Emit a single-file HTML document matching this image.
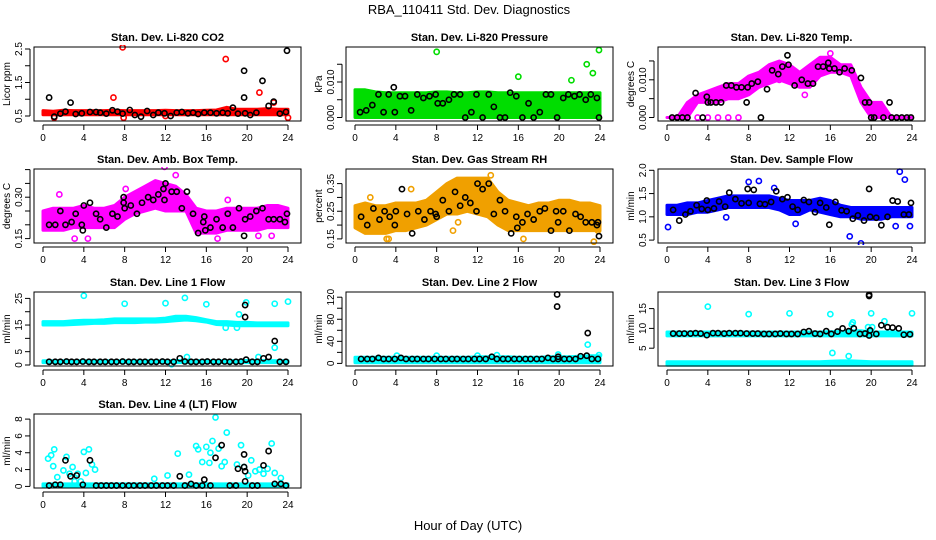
<!DOCTYPE html>
<html><head><meta charset="utf-8">
<style>
html,body{margin:0;padding:0;background:#fff;}
svg{display:block;font-family:"Liberation Sans",sans-serif;}
</style></head>
<body>
<svg id="chart" width="936" height="540" viewBox="0 0 936 540" xmlns="http://www.w3.org/2000/svg">
<rect width="936" height="540" fill="#fff"/>
<text x="469" y="14" text-anchor="middle" font-size="13">RBA_110411  Std. Dev. Diagnostics</text>
<text x="468" y="530" text-anchor="middle" font-size="13">Hour of Day (UTC)</text>
</svg>
<script>
// ---- shared data ----
const hours = [0,1,2,3,4,5,6,7,8,9,10,11,12,13,14,15,16,17,18,19,20,21,22,23,24];
const xTicks = [0,4,8,12,16,20,24];
const baseX = [0.6,1.2,1.7,2.3,2.8,3.3,3.9,4.5,5.0,5.6,6.1,6.7,7.2,7.8,8.4,8.9,9.5,10.0,10.6,11.1,11.7,12.2,12.8,13.4,13.9,14.5,15.0,15.6,16.1,16.7,17.2,17.8,18.3,18.9,19.4,19.9,20.5,21.0,21.6,22.1,22.7,23.2,23.8];

// CO2
const co2Lo = [0.54,0.54,0.54,0.54,0.54,0.54,0.54,0.54,0.54,0.54,0.54,0.54,0.54,0.54,0.54,0.54,0.54,0.54,0.54,0.54,0.54,0.54,0.54,0.54,0.54];
const co2Hi = [0.66,0.64,0.67,0.66,0.66,0.66,0.66,0.67,0.66,0.66,0.66,0.66,0.67,0.66,0.66,0.66,0.67,0.68,0.76,0.7,0.7,0.7,0.72,0.7,0.7];
const co2Cx = [7.8,17.9,6.9,21.2,22.6,7.9,1.1,24,12,18.6];
const co2Cy = [2.55,2.2,1.05,1.2,0.9,0.45,0.45,0.45,0.5,0.6];
const co2Kx = [0.6,1.1,1.7,2.2,2.7,3.2,3.8,4.6,5.2,5.6,6.2,6.8,7.3,7.8,8.5,9.0,9.6,10.2,10.8,11.3,11.9,12.5,13.1,13.6,14.2,14.7,15.2,15.8,16.4,17.0,17.6,18.1,18.6,19.1,19.7,19.7,19.8,20.3,20.9,21.5,22.1,22.6,23.2,23.8,23.9];
const co2Ky = [1.05,0.48,0.57,0.63,0.9,0.56,0.58,0.62,0.62,0.6,0.57,0.67,0.63,0.57,0.68,0.53,0.48,0.65,0.53,0.6,0.58,0.5,0.6,0.62,0.58,0.6,0.56,0.6,0.6,0.58,0.6,0.58,0.75,0.57,1.85,1.05,0.58,0.53,0.6,1.55,0.8,0.93,0.57,0.62,2.45];

// Pressure
const prLo = [0,0,0,0,0,0,0,0,0,0,0,0,0,0,0,0,0,0,0,0,0,0,0,0,0];
const prHi = [0.0078,0.0078,0.0072,0.007,0.007,0.007,0.007,0.007,0.0072,0.0072,0.007,0.007,0.0072,0.0072,0.007,0.007,0.007,0.007,0.007,0.007,0.007,0.007,0.007,0.007,0.007];
const prCx = [8,16,21.2,22.7,23.3,23.9];
const prCy = [0.0185,0.0115,0.0105,0.015,0.0125,0.019];
const prKx = [0.5,1.1,1.7,2.3,2.8,3.3,3.8,3.9,4.4,4.9,5.5,6.1,6.7,7.3,7.9,8.1,8.6,9.2,9.7,10.3,10.8,11.4,11.9,12.5,13.1,13.6,14.2,14.7,15.2,15.8,16.4,17.0,17.5,18.1,18.7,19.2,19.8,20.4,20.9,21.5,22.0,22.6,23.1,23.7,23.9];
const prKy = [0.0015,0.002,0.0035,0.0065,0.0015,0.0065,0.0085,0.0015,0.006,0.006,0.002,0.0065,0.0055,0.006,0.0065,0.004,0.004,0.005,0.0065,0.0065,0,0.0015,0.0065,0,0.0065,0.003,0,0,0.007,0.006,0,0.004,0,0.0015,0.0065,0.0065,0,0.0055,0.0065,0.006,0.0065,0.005,0.0065,0.0055,0];

// Li-820 Temp
const tpLo = [0,0,0,0.004,0.004,0.004,0.005,0.005,0.006,0.008,0.009,0.01,0.009,0.008,0.008,0.011,0.012,0.012,0.011,0.004,0,0,0,0,0];
const tpHi = [0,0,0.004,0.006,0.007,0.008,0.009,0.009,0.011,0.012,0.014,0.015,0.014,0.012,0.014,0.016,0.016,0.014,0.014,0.008,0.004,0.004,0,0,0];
const tpCx = [3,4,5,6,7,13.5,11,16,1,2];
const tpCy = [0,0,0,0,0,0.006,0.010,0.017,0,0];
const tpKx = [0.5,1,1.5,2,2.8,3.5,3.9,4,4.3,4.8,5.3,5.8,6.3,6.8,7.3,7.8,7.9,8.3,8.9,9.2,9.8,10.3,10.9,11.3,11.8,11.9,12.5,13.2,13.8,14.3,14.8,15.3,15.8,15.9,16.4,16.9,17.4,18.1,19,19.4,19.8,20,20.3,21.2,21.8,22,22.5,23,23.5,23.9];
const tpKy = [0,0,0,0,0.0065,0,0.0055,0.004,0.004,0.004,0.004,0.0085,0.0085,0.008,0.008,0.004,0.008,0.009,0.0095,0,0.0075,0.0125,0.0115,0.0135,0.0165,0.014,0.0085,0.01,0.009,0.009,0.0135,0.0135,0.0145,0.013,0.013,0.012,0.013,0.0125,0.0105,0.004,0.004,0,0,0,0.004,0,0,0,0,0];

// Amb box temp
const abLo = [0.18,0.18,0.18,0.19,0.19,0.19,0.19,0.19,0.22,0.24,0.25,0.26,0.25,0.25,0.25,0.17,0.17,0.17,0.18,0.18,0.18,0.18,0.19,0.19,0.19];
const abHi = [0.25,0.26,0.26,0.26,0.27,0.26,0.26,0.27,0.30,0.32,0.34,0.36,0.35,0.34,0.31,0.26,0.25,0.25,0.26,0.26,0.26,0.26,0.27,0.27,0.26];
const abCx = [1.6,3.1,4.4,8.1,11.9,13,17.1,18.1,14.4,21.1,22.4];
const abCy = [0.31,0.15,0.15,0.33,0.41,0.38,0.15,0.29,0.24,0.16,0.16];
const abKx = [0.6,1.2,1.7,2.2,2.8,3.2,3.8,3.9,4.0,4.6,5.2,5.6,6.2,6.8,7.3,7.9,7.9,8.0,8.6,9.2,9.7,10.3,10.8,11.3,11.8,11.9,12.0,12.6,13.1,13.6,14.1,14.7,15.2,15.7,15.8,15.9,16.4,17.0,17.6,18.1,18.6,19.2,19.7,19.8,20.3,20.9,21.5,22.1,22.6,23.2,23.7,23.9];
const abKy = [0.2,0.2,0.25,0.2,0.21,0.24,0.2,0.18,0.27,0.28,0.24,0.22,0.19,0.24,0.23,0.3,0.28,0.26,0.27,0.24,0.28,0.3,0.29,0.31,0.33,0.29,0.35,0.32,0.32,0.26,0.32,0.24,0.17,0.21,0.23,0.18,0.19,0.22,0.19,0.24,0.19,0.26,0.16,0.22,0.23,0.25,0.26,0.22,0.22,0.22,0.21,0.24];

// RH
const rhLo = [0.19,0.17,0.17,0.17,0.18,0.18,0.19,0.2,0.22,0.24,0.24,0.25,0.24,0.23,0.2,0.18,0.18,0.18,0.18,0.18,0.18,0.18,0.18,0.18,0.18];
const rhHi = [0.27,0.28,0.27,0.27,0.28,0.28,0.28,0.29,0.32,0.35,0.37,0.37,0.37,0.37,0.32,0.29,0.28,0.27,0.28,0.28,0.29,0.29,0.28,0.28,0.27];
const rhCx = [1.5,3.1,3.3,5.5,9.6,13.3,16.5,23.4,23.8,10.1];
const rhCy = [0.3,0.15,0.15,0.33,0.18,0.38,0.15,0.14,0.18,0.21];
const rhKx = [0.6,1.2,1.8,2.4,2.9,3.4,3.9,4.0,4.6,5.1,5.6,6.2,6.8,7.4,7.9,8.0,8.6,9.2,9.8,10.3,10.8,11.3,11.9,12.0,12.5,13.1,13.6,14.2,14.7,15.3,15.8,15.9,16.4,16.9,17.5,18.1,18.6,19.2,19.7,19.9,20.4,21.0,21.6,22.1,22.6,23.2,23.7,23.9,23.8];
const rhKy = [0.23,0.2,0.26,0.22,0.25,0.23,0.2,0.25,0.33,0.24,0.17,0.25,0.22,0.25,0.24,0.23,0.29,0.25,0.32,0.27,0.3,0.28,0.25,0.35,0.33,0.35,0.24,0.29,0.25,0.17,0.23,0.19,0.21,0.24,0.22,0.25,0.26,0.18,0.25,0.21,0.25,0.18,0.24,0.23,0.21,0.21,0.2,0.16,0.21];

// Sample flow
const sfLo = [1.05,1.05,1.05,1.1,1.1,1.15,1.2,1.2,1.2,1.2,1.2,1.15,1.05,1.05,1.15,1.1,1.05,1.0,1.0,0.95,0.95,0.95,1.0,1.0,1.0];
const sfHi = [1.25,1.25,1.3,1.3,1.35,1.4,1.45,1.45,1.45,1.45,1.45,1.4,1.35,1.35,1.35,1.4,1.35,1.25,1.2,1.2,1.2,1.2,1.2,1.2,1.2];
const sfCx = [0.1,5.8,8,9,10.5,17.9,19,22.8,23.3,23.8,22.4,12.6];
const sfCy = [0.78,0.99,1.75,1.77,1.62,0.58,0.43,1.97,1.8,0.8,0.8,0.85];
const sfKx = [0.6,1.2,1.8,2.3,2.9,3.4,3.9,4.0,4.6,5.1,5.7,6.1,6.7,7.3,7.9,8.0,8.5,9.1,9.6,10.2,10.7,11.3,11.8,12.3,12.8,13.4,13.9,14.5,15.0,15.6,15.9,16.5,17.1,17.6,18.2,18.7,19.3,19.8,19.9,20.5,21.0,21.6,22.1,22.6,23.2,23.7,23.9];
const sfKy = [1.15,0.92,1.05,1.12,1.25,1.17,1.35,1.15,1.18,1.33,1.22,1.52,1.38,1.29,1.6,1.3,1.58,1.28,1.27,1.32,1.55,1.38,1.42,1.22,1.15,1.36,1.32,1.1,1.3,1.2,0.83,1.32,1.14,1.12,0.96,1.03,0.92,1.6,1.0,0.98,0.82,1.0,1.35,1.33,1.05,1.05,1.3];

// Line 1 flow
const l1Lo = [15,15,15,15.2,15.4,15.6,15.6,15.9,15.9,15.9,16.1,16.1,16.3,16.6,16.9,16.6,16.1,15.2,15,14.7,14.7,14.7,14.7,14.7,14.7];
const l1Hi = [16.3,16.3,16.3,16.6,16.8,16.8,17,17.3,17.3,17.3,17.3,17.3,17.6,18.3,18.3,17.8,17,16.3,16.3,16,16,15.8,15.8,15.8,15.8];
const l1Lo2 = [0.9,0.9,0.9,0.9,0.9,0.9,0.9,0.9,0.9,0.9,0.9,0.9,0.9,0.9,0.9,0.9,0.9,0.9,0.9,0.9,0.9,0.9,0.9,0.9,0.9];
const l1Hi2 = [1.6,1.6,1.6,1.6,1.6,1.6,1.6,1.6,1.6,1.6,1.6,1.6,1.6,1.7,1.7,1.7,1.6,1.6,1.6,1.6,1.7,1.7,1.7,1.6,1.6];
const l1Cx = [4,8,12,13.9,16,19.2,19.9,22.7,24,22.7,21.1,14.1,12.6,17.9,19];
const l1Cy = [26,23,23.2,25.2,22.8,19,23.5,23,23.8,6.5,3,3,0.3,14,14];
const l1Kx = [0.6,1.2,1.7,2.3,2.8,3.3,3.9,4.5,5.0,5.6,6.1,6.7,7.2,7.8,8.4,8.9,9.5,10.0,10.6,11.1,11.7,12.2,12.8,13.4,13.9,14.5,15.0,15.6,16.1,16.7,17.2,17.8,18.3,18.9,19.4,19.8,19.8,19.9,20.5,21.0,21.6,22.1,22.7,23.2,23.8];
const l1Ky = [1.2,1.2,1.2,1.3,1.2,1.2,1.3,1.2,1.2,1.2,1.2,1.2,1.2,1.3,1.2,1.2,1.2,1.2,1.2,1.2,1.3,1.2,1.2,2.5,1.3,1.2,1.2,1.2,1.3,1.2,1.2,1.3,1.2,1.2,1.3,22.5,18,2,1.2,1.2,2.5,3,9,1.2,1.2];

// Line 2 flow
const l2Lo = [1,1,1,1,1,1,1,1,1,1,1,1,1,1,1,1,1,1,1,1,1,1,1,1,1];
const l2Hi = [11,11,11,11,11,11,11,11,11,11,11,11,12,12,12,12,11,11,11,12,12,12,13,14,14];
const l2Cx = [22.8,23.9,4.1,8,12,13.9,19.9];
const l2Cy = [34,15,14,14,14,15,16];
const l2Ky = [8,8,8,10,8,8,8,10,8,8,8,8,8,8,8,8,8,8,8,8,8,8,8,12,8,8,8,8,8,8,8,8,8,10,8,8,8,8,8,13,14,8,8];
const l2Kx2 = [19.8,19.8,22.8,19.9];
const l2Ky2 = [125,103,55,12];

// Line 3 flow
const l3Lo = [8.1,8.1,8.1,8.1,8.1,8.1,8.1,8.1,8.1,8.1,8.1,8.1,8.1,8.1,8.1,8.1,8.1,8.1,8.1,8.1,8.1,8.1,8.1,8.1,8.1];
const l3Hi = [9.1,9.1,9.1,9.1,9.1,9.1,9.1,9.1,9.1,9.1,9.1,9.1,9.1,9.1,9.1,9.1,9.2,9.2,9.4,9.4,9.1,9.1,9.1,9.1,9.1];
const l3Lo2 = [0.7,0.7,0.7,0.7,0.7,0.7,0.7,0.7,0.7,0.7,0.7,0.7,0.7,0.7,0.7,0.7,0.7,0.7,0.7,0.7,0.7,0.7,0.7,0.7,0.7];
const l3Hi2 = [1.6,1.6,1.6,1.6,1.6,1.6,1.6,1.6,1.6,1.6,1.6,1.6,1.6,1.6,1.6,1.6,1.7,1.8,1.8,1.7,1.6,1.6,1.6,1.6,1.6];
const l3Cx = [4,8,12,16,20,24,18.2,21.3,17.8,19.7,16.2,18.1,20.1];
const l3Cy = [15.5,13.6,13.8,13.6,13.8,13.8,11.5,11.8,3,10.3,3.8,11,10.3];
const l3Ky = [8.7,8.7,8.7,8.7,8.8,8.7,8.3,8.8,8.8,8.7,8.8,8.8,8.8,8.7,8.7,8.7,8.6,8.6,8.6,8.7,8.6,8.6,8.6,9.1,9.3,8.7,8.6,9.3,8.6,9.2,10,9.3,10,8.6,8.7,9.5,8.6,10.8,10.3,10.2,10.0,8.4,8.5];
const l3Kx2 = [19.8,19.8,19.8];
const l3Ky2 = [18.5,18.2,8.2];

// Line 4 flow
const l4Lo = [0,0,0,0,0,0,0,0,0,0,0,0,0,0,0,0,0,0,0,0,0,0,0,0,0];
const l4Hi = [0.3,0.3,0.3,0.3,0.3,0.3,0.3,0.3,0.3,0.3,0.3,0.3,0.3,0.3,0.3,0.3,0.3,0.3,0.3,0.3,0.3,0.3,0.3,0.3,0.3];
const l4Cx = [0.5,0.8,1,1.1,1.4,2,2.3,2.6,2.9,3.1,3.4,3.7,4,4.2,4.5,4.8,5.1,10.9,12.2,13.2,14.3,15,15.2,15.6,16,16.3,16.4,16.6,16.9,17.2,17.5,17.8,18,19,19.4,19.7,20.1,20.4,20.8,21.2,21.6,22,22.4,22.7,23.3];
const l4Cy = [3.3,3.7,2.4,4.4,1.1,1.9,3.5,1.5,2.3,0.6,1.5,0.6,4.1,1.6,4.4,2.6,2.0,0.9,1.3,3.9,1.4,4.8,4.4,2.9,4.7,2.8,4.0,5.4,8.2,4.5,2.4,2.9,6.4,2.6,4.9,2.3,1.3,3.1,1.8,2.0,1.5,2.1,5.1,1.6,1.0];
const l4Kx = [0.6,1.2,1.7,2.2,2.7,3.3,3.9,4.6,5.2,5.7,6.2,6.7,7.2,7.8,8.4,8.9,9.5,10.0,10.6,11.1,11.7,12.2,12.8,13.4,13.9,14.5,15.0,15.6,15.8,16.4,16.9,17.5,18.3,18.9,19.1,19.7,19.8,19.7,19.8,20.5,21.0,21.6,22.1,22.7,23.3,23.8];
const l4Ky = [0.1,0.2,0.2,3.1,1.2,1.3,0.2,3.1,0.1,0.1,0.1,0.1,0.1,0.1,0.1,0.1,0.1,0.1,0.1,0.1,0.1,0.1,0.1,1.2,0.1,0.3,0.1,0.1,0.8,0.1,3.4,4.9,0.1,0.1,2.1,3.8,1.8,2.3,0.6,0.1,0.1,2.5,4.2,0.3,0.3,0.1];

// ---- tick/label arrays ----
const ticksCo2 = [0.5,1.0,1.5,2.0,2.5]; const labCo2 = ["0.5","","1.5","","2.5"];
const ticksPr = [0,0.005,0.010,0.015]; const labPr = ["0.000","","0.010",""];
const ticksTp = [0,0.005,0.010,0.015]; const labTp = ["0.000","","0.010",""];
const ticksAb = [0.15,0.20,0.25,0.30,0.35,0.40]; const labAb = ["0.15","","","0.30","",""];
const ticksRh = [0.15,0.20,0.25,0.30,0.35]; const labRh = ["0.15","","0.25","","0.35"];
const ticksSf = [0.5,1.0,1.5,2.0]; const labSf = ["0.5","1.0","1.5","2.0"];
const ticksL1 = [0,5,10,15,20,25]; const labL1 = ["0","5","","15","","25"];
const ticksL2 = [0,20,40,60,80,100,120]; const labL2 = ["0","","40","","80","","120"];
const ticksL3 = [5,10,15]; const labL3 = ["5","10","15"];
const ticksL4 = [0,2,4,6,8]; const labL4 = ["0","2","4","6","8"];

// ---- rendering ----
const NS = "http://www.w3.org/2000/svg";
const svg = document.getElementById("chart");
function mk(tag, attrs, parent){ const e=document.createElementNS(NS,tag); for(const k in attrs) e.setAttribute(k,attrs[k]); (parent||svg).appendChild(e); return e; }

const boxBottoms = [121,243,366,488];
const BOXH = 74;

const panels = [
 {name:"co2",title:"Stan. Dev. Li-820 CO2",ylab:"Licor ppm",col:0,row:0,color:"#ff0000",ya:[0.5,116,2.5,49],ticks:ticksCo2,labs:labCo2,bands:[[co2Lo,co2Hi]],cx:co2Cx,cy:co2Cy,kx:co2Kx,ky:co2Ky},
 {name:"pressure",title:"Stan. Dev. Li-820 Pressure",ylab:"kPa",col:1,row:0,color:"#00dd00",ya:[0,117.5,0.010,82],ticks:ticksPr,labs:labPr,bands:[[prLo,prHi]],cx:prCx,cy:prCy,kx:prKx,ky:prKy},
 {name:"li820-temp",title:"Stan. Dev. Li-820 Temp.",ylab:"degrees C",col:2,row:0,color:"#ff00ff",ya:[0,117.5,0.010,79.8],ticks:ticksTp,labs:labTp,bands:[[tpLo,tpHi]],cx:tpCx,cy:tpCy,kx:tpKx,ky:tpKy},
 {name:"amb-box-temp",title:"Stan. Dev. Amb. Box Temp.",ylab:"degrees C",col:0,row:1,color:"#ff00ff",ya:[0.15,238.6,0.30,197.2],ticks:ticksAb,labs:labAb,bands:[[abLo,abHi]],cx:abCx,cy:abCy,kx:abKx,ky:abKy},
 {name:"gas-stream-rh",title:"Stan. Dev. Gas Stream RH",ylab:"percent",col:1,row:1,color:"#f0a000",ya:[0.15,238.9,0.35,183.6],ticks:ticksRh,labs:labRh,bands:[[rhLo,rhHi]],cx:rhCx,cy:rhCy,kx:rhKx,ky:rhKy},
 {name:"sample-flow",title:"Stan. Dev. Sample Flow",ylab:"ml/min",col:2,row:1,color:"#0000ff",ya:[0.5,240.1,2.0,170.3],ticks:ticksSf,labs:labSf,bands:[[sfLo,sfHi]],cx:sfCx,cy:sfCy,kx:sfKx,ky:sfKy},
 {name:"line1-flow",title:"Stan. Dev. Line 1 Flow",ylab:"ml/min",col:0,row:2,color:"#00ffff",ya:[0,365,25,298.4],ticks:ticksL1,labs:labL1,bands:[[l1Lo,l1Hi],[l1Lo2,l1Hi2]],cx:l1Cx,cy:l1Cy,kx:l1Kx,ky:l1Ky},
 {name:"line2-flow",title:"Stan. Dev. Line 2 Flow",ylab:"ml/min",col:1,row:2,color:"#00ffff",ya:[0,363.4,120,297.2],ticks:ticksL2,labs:labL2,bands:[[l2Lo,l2Hi]],cx:l2Cx,cy:l2Cy,kx:baseX.concat(l2Kx2),ky:l2Ky.concat(l2Ky2)},
 {name:"line3-flow",title:"Stan. Dev. Line 3 Flow",ylab:"ml/min",col:2,row:2,color:"#00ffff",ya:[5,348.2,15,308.6],ticks:ticksL3,labs:labL3,bands:[[l3Lo,l3Hi],[l3Lo2,l3Hi2]],cx:l3Cx,cy:l3Cy,kx:baseX.concat(l3Kx2),ky:l3Ky.concat(l3Ky2)},
 {name:"line4-flow",title:"Stan. Dev. Line 4 (LT) Flow",ylab:"ml/min",col:0,row:3,color:"#00ffff",ya:[0,486.4,8,419.1],ticks:ticksL4,labs:labL4,bands:[[l4Lo,l4Hi]],cx:l4Cx,cy:l4Cy,kx:l4Kx,ky:l4Ky}
];

panels.forEach(p=>{
  const off = 312*p.col;
  const bx0 = 34+off, bx1 = 301+off;
  const by1 = boxBottoms[p.row], by0 = by1-BOXH;
  const xs = h => 43+off + (h/24)*245;
  const ys = v => p.ya[1] + (v-p.ya[0])*(p.ya[3]-p.ya[1])/(p.ya[2]-p.ya[0]);
  const g = mk("g",{});
  
  
  const t = mk("text",{x:(bx0+bx1)/2,y:by0-6,"text-anchor":"middle","font-size":"11","font-weight":"bold"},g);
  t.textContent = p.title;
  
  
  const clip = mk("clipPath",{id:"clip-"+p.name},g);
  mk("rect",{x:bx0,y:by0-2,width:bx1-bx0,height:BOXH+4},clip);
  const plot = mk("g",{"clip-path":"url(#clip-"+p.name+")"},g);
  
  
  p.bands.forEach(b=>{
    const lo=b[0], hi=b[1];
    let pts=[];
    for(let i=0;i<hours.length;i++) pts.push(xs(hours[i]).toFixed(1)+","+ys(hi[i]).toFixed(1));
    for(let i=hours.length-1;i>=0;i--) pts.push(xs(hours[i]).toFixed(1)+","+ys(lo[i]).toFixed(1));
    const poly = mk("polygon",{points:pts.join(" "),fill:p.color,stroke:p.color,"stroke-width":"3","stroke-linejoin":"round"},plot);
    
    
  });
  for(let i=0;i<Math.min(p.cx.length,p.cy.length);i++){
    const c = mk("circle",{cx:xs(p.cx[i]),cy:ys(p.cy[i]),r:2.6,fill:"none",stroke:p.color,"stroke-width":1.6},plot);
    
    
  }
  for(let i=0;i<Math.min(p.kx.length,p.ky.length);i++){
    const c = mk("circle",{cx:xs(p.kx[i]),cy:ys(p.ky[i]),r:2.6,fill:"none",stroke:"#000","stroke-width":1.6},plot);
    
    
  }
  const box = mk("rect",{x:bx0,y:by0,width:bx1-bx0,height:BOXH,fill:"none",stroke:"#000","stroke-width":1},g);
  
  
  const xa = mk("g",{},g);
  
  
  mk("line",{x1:xs(0),x2:xs(24),y1:by1+4,y2:by1+4,stroke:"#000"},xa);
  xTicks.forEach(v=>{
    mk("line",{x1:xs(v),x2:xs(v),y1:by1+4,y2:by1+9,stroke:"#000"},xa);
    const tl = mk("text",{x:xs(v),y:by1+20,"text-anchor":"middle","font-size":"10"},xa);
    tl.textContent = String(v);
    
    
  });
  const ya = mk("g",{},g);
  
  
  const yt0 = ys(p.ticks[0]), yt1 = ys(p.ticks[p.ticks.length-1]);
  mk("line",{x1:bx0-4,x2:bx0-4,y1:yt0,y2:Math.max(yt1,by0),stroke:"#000"},ya);
  p.ticks.forEach((v,i)=>{
    const y = ys(v);
    if(y<by0-1) return;
    mk("line",{x1:bx0-9,x2:bx0-4,y1:y,y2:y,stroke:"#000"},ya);
    if(p.labs[i]){
      const tl = mk("text",{x:bx0-12,y:y,"text-anchor":"middle","font-size":"10",transform:"rotate(-90 "+(bx0-12)+" "+y+")"},ya);
      tl.textContent = p.labs[i];
      
      
    }
  });
  const yl = mk("text",{x:bx0-24,y:(by0+by1)/2,"text-anchor":"middle","font-size":"10",transform:"rotate(-90 "+(bx0-24)+" "+((by0+by1)/2)+")"},ya);
  yl.textContent = p.ylab;
  
  
});
</script>
</body></html>
